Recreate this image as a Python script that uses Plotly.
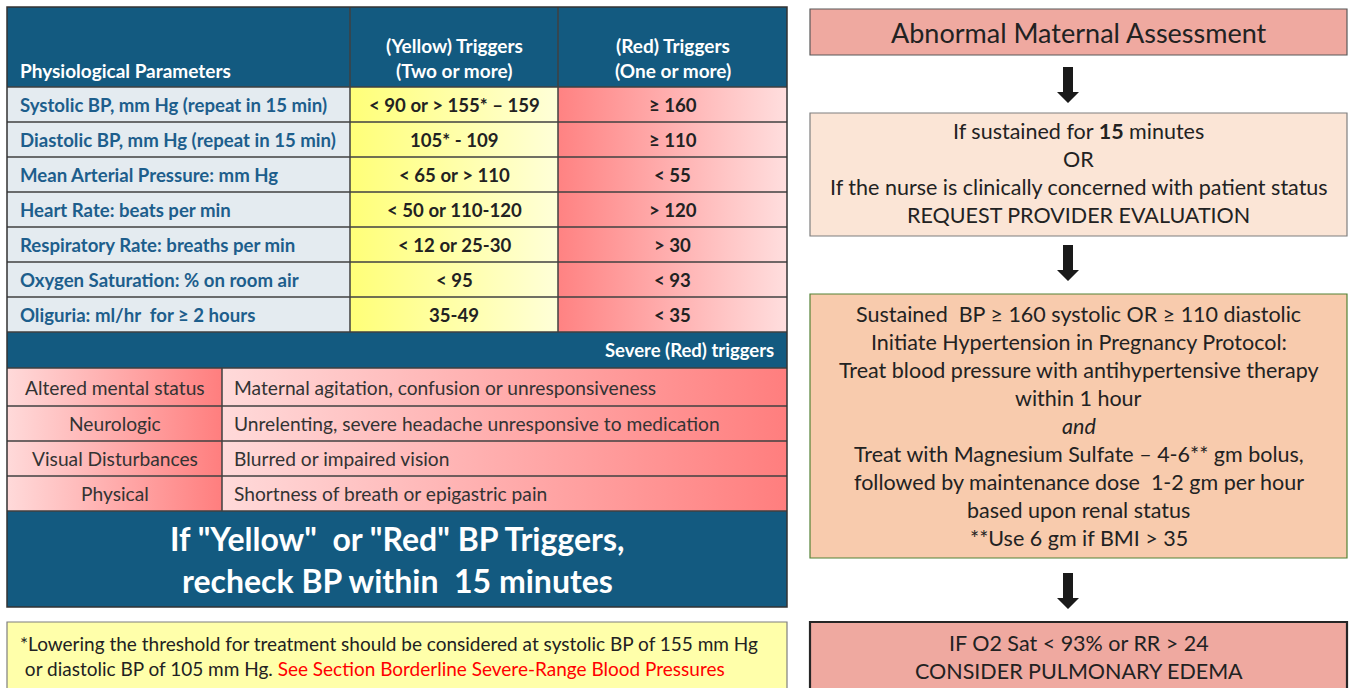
import plotly.graph_objects as go

W, H = 1350, 688
FONT = "Lato"
BLUE = "#135A80"
LBLUE = "#1D5E8C"
GRID = "#404040"

# ---------------- data ----------------
header_param = "Physiological Parameters"
header_yellow = ["(Yellow) Triggers", "(Two or more)"]
header_red = ["(Red) Triggers", "(One or more)"]
params = [
    "Systolic BP, mm Hg (repeat in 15 min)",
    "Diastolic BP, mm Hg (repeat in 15 min)",
    "Mean Arterial Pressure: mm Hg",
    "Heart Rate: beats per min",
    "Respiratory Rate: breaths per min",
    "Oxygen Saturation: % on room air",
    "Oliguria: ml/hr  for \u2265 2 hours",
]
yellow_triggers = [
    "< 90 or > 155* \u2013 159",
    "105* - 109",
    "< 65 or > 110",
    "< 50 or 110-120",
    "< 12 or 25-30",
    "< 95",
    "35-49",
]
red_triggers = ["\u2265 160", "\u2265 110", "< 55", "> 120", "> 30", "< 93", "< 35"]
severe_title = "Severe (Red) triggers"
severe_cats = ["Altered mental status", "Neurologic", "Visual Disturbances", "Physical"]
severe_desc = [
    "Maternal agitation, confusion or unresponsiveness",
    "Unrelenting, severe headache unresponsive to medication",
    "Blurred or impaired vision",
    "Shortness of breath or epigastric pain",
]
recheck_lines = ['If "Yellow"  or "Red" BP Triggers,', "recheck BP within  15 minutes"]
footnote_lines = [
    "*Lowering the threshold for treatment should be considered at systolic BP of 155 mm Hg",
    " or diastolic BP of 105 mm Hg. <span style='color:#FF0000'>See Section Borderline Severe-Range Blood Pressures</span>",
]
flow_boxes = [
    ["Abnormal Maternal Assessment"],
    ["If sustained for <b>15</b> minutes", "OR",
     "If the nurse is clinically concerned with patient status",
     "REQUEST PROVIDER EVALUATION"],
    ["Sustained  BP \u2265 160 systolic OR \u2265 110 diastolic",
     "Initiate Hypertension in Pregnancy Protocol:",
     "Treat blood pressure with antihypertensive therapy",
     "within 1 hour", "<i>and</i>",
     "Treat with Magnesium Sulfate \u2013 4-6** gm bolus,",
     "followed by maintenance dose  1-2 gm per hour",
     "based upon renal status", "**Use 6 gm if BMI > 35"],
    ["IF O2 Sat < 93% or RR > 24", "CONSIDER PULMONARY EDEMA"],
]

# ---------------- layout geometry ----------------
TX0, TX1 = 7, 787
C1, C2 = 350, 558
HEAD_Y0, HEAD_Y1 = 7, 87
ROW_H = 35
BAND_Y1 = 368
SEV_Y = [368, 406, 441, 476, 511]
SEV_C = 222
RECHECK_Y1 = 607
FOOT_Y0 = 622

FX0, FX1 = 810, 1347
flow_y = [(9, 55), (113, 236), (294, 558), (622, 700)]
flow_fill = ["#EFA9A0", "#FBE5D6", "#F8CBAD", "#EFA9A0"]
flow_line = ["#595959", "#7F7F7F", "#548235", "#262626"]
flow_lw = [1.2, 1.2, 1.2, 2.2]
flow_fs = [27, 21.5, 21.5, 21.5]
LINE_STEP = 28

fig = go.Figure()
shapes = []
ann = []


def rect(x0, y0, x1, y1, fill, line="rgba(0,0,0,0)", lw=0):
    shapes.append(dict(type="rect", x0=x0, y0=y0, x1=x1, y1=y1, xref="x", yref="y",
                       fillcolor=fill, line=dict(color=line, width=lw), layer="below"))


def grad(x0, y0, x1, y1, c0, c1, kind="horizontal"):
    fig.add_trace(go.Scatter(x=[x0, x1, x1, x0, x0], y=[y0, y0, y1, y1, y0],
                             mode="lines", fill="toself", line=dict(width=0),
                             fillgradient=dict(type=kind, colorscale=[[0, c0], [1, c1]]),
                             hoverinfo="skip", showlegend=False))


def line(x0, y0, x1, y1, color=GRID, w=1.5):
    shapes.append(dict(type="line", x0=x0, y0=y0, x1=x1, y1=y1, xref="x", yref="y",
                       line=dict(color=color, width=w), layer="above"))


def text(x, y, s, size, color="#222", bold=False, xanchor="center"):
    if bold:
        s = "<b>" + s + "</b>"
    ann.append(dict(x=x, y=y, xref="x", yref="y", text=s, showarrow=False,
                    xanchor=xanchor, yanchor="middle",
                    font=dict(family=FONT, size=size, color=color)))


# header
rect(TX0, HEAD_Y0, TX1, HEAD_Y1, BLUE)
text(18, 70, header_param, 19, "white", True, "left")
text((C1 + C2) / 2, 45, header_yellow[0], 19, "white", True)
text((C1 + C2) / 2, 70, header_yellow[1], 19, "white", True)
text((C2 + TX1) / 2, 45, header_red[0], 19, "white", True)
text((C2 + TX1) / 2, 70, header_red[1], 19, "white", True)

# parameter rows
for i, p in enumerate(params):
    y0 = HEAD_Y1 + i * ROW_H
    y1 = y0 + ROW_H
    ym = (y0 + y1) / 2
    rect(TX0, y0, C1, y1, "#E4EBF0")
    grad(C1, y0, C2, y1, "#FFFF78", "#FFFFD8")
    grad(C2, y0, TX1, y1, "#FF8282", "#FFDEDE")
    text(18, ym, p, 18.6, LBLUE, True, "left")
    text((C1 + C2) / 2, ym, yellow_triggers[i], 18.6, "#222", True)
    text((C2 + TX1) / 2, ym, red_triggers[i], 18.6, "#222", True)
ROWS_Y1 = HEAD_Y1 + len(params) * ROW_H

# severe band
rect(TX0, ROWS_Y1, TX1, BAND_Y1, BLUE)
text(776, (ROWS_Y1 + BAND_Y1) / 2, severe_title, 18.5, "white", True, "right")

for i, c in enumerate(severe_cats):
    y0, y1 = SEV_Y[i], SEV_Y[i + 1]
    ym = (y0 + y1) / 2
    grad(TX0, y0, SEV_C, y1, "#FFDADA", "#FF7E7E")
    grad(SEV_C, y0, TX1, y1, "#FFDADA", "#FF7E7E")
    text((TX0 + SEV_C) / 2, ym, c, 19.2, "#333")
    text(232, ym, severe_desc[i], 19.2, "#333", False, "left")

# recheck box
rect(TX0, SEV_Y[-1], TX1, RECHECK_Y1, BLUE)
text((TX0 + TX1) / 2, 538, recheck_lines[0], 32, "white", True)
text((TX0 + TX1) / 2, 580, recheck_lines[1], 32, "white", True)

# grid lines
for i in range(len(params) + 1):
    y = HEAD_Y1 + i * ROW_H
    line(TX0, y, TX1, y)
for x in (C1, C2):
    line(x, HEAD_Y0, x, ROWS_Y1)
for y in SEV_Y:
    line(TX0, y, TX1, y)
line(SEV_C, SEV_Y[0], SEV_C, SEV_Y[-1])
shapes.append(dict(type="rect", x0=TX0, y0=HEAD_Y0, x1=TX1, y1=RECHECK_Y1, xref="x", yref="y",
                   line=dict(color="#333", width=1.5), layer="above"))

# footnote
rect(TX0, FOOT_Y0, TX1, 700, "#FFFFAA", "#7F7F7F", 1.2)
text(18, 643, footnote_lines[0], 19, "#222", False, "left")
text(18, 668, footnote_lines[1], 19, "#222", False, "left")

# flow boxes
FXM = (FX0 + FX1) / 2
for k, lines in enumerate(flow_boxes):
    y0, y1 = flow_y[k]
    rect(FX0, y0, FX1, y1, flow_fill[k], flow_line[k], flow_lw[k])
    if k == 0:
        starts = [32]
    elif k == 1:
        starts = [131 + j * LINE_STEP for j in range(len(lines))]
    elif k == 2:
        starts = [314 + j * LINE_STEP for j in range(len(lines))]
    else:
        starts = [643 + j * LINE_STEP for j in range(len(lines))]
    for s, ty in zip(lines, starts):
        text(FXM, ty, s, flow_fs[k], "#222")

# arrows
for (ya, yb) in [(67, 103), (245, 281), (573, 609)]:
    ax = 1068
    yh = yb - 11
    shapes.append(dict(type="path", xref="x", yref="y",
                       path=f"M {ax-5},{ya} L {ax+5},{ya} L {ax+5},{yh} L {ax+11},{yh} "
                            f"L {ax},{yb} L {ax-11},{yh} L {ax-5},{yh} Z",
                       fillcolor="#1a1a1a", line=dict(width=0)))

fig.update_layout(
    width=W, height=H, margin=dict(l=0, r=0, t=0, b=0),
    paper_bgcolor="white", plot_bgcolor="white",
    xaxis=dict(range=[0, W], visible=False, fixedrange=True),
    yaxis=dict(range=[H, 0], visible=False, fixedrange=True),
    shapes=shapes, annotations=ann, showlegend=False,
)
fig.write_html(
    "out.html",
    config={"displayModeBar": False},
    post_script="document.body.style.margin='0';document.body.style.overflow='hidden';",
)
